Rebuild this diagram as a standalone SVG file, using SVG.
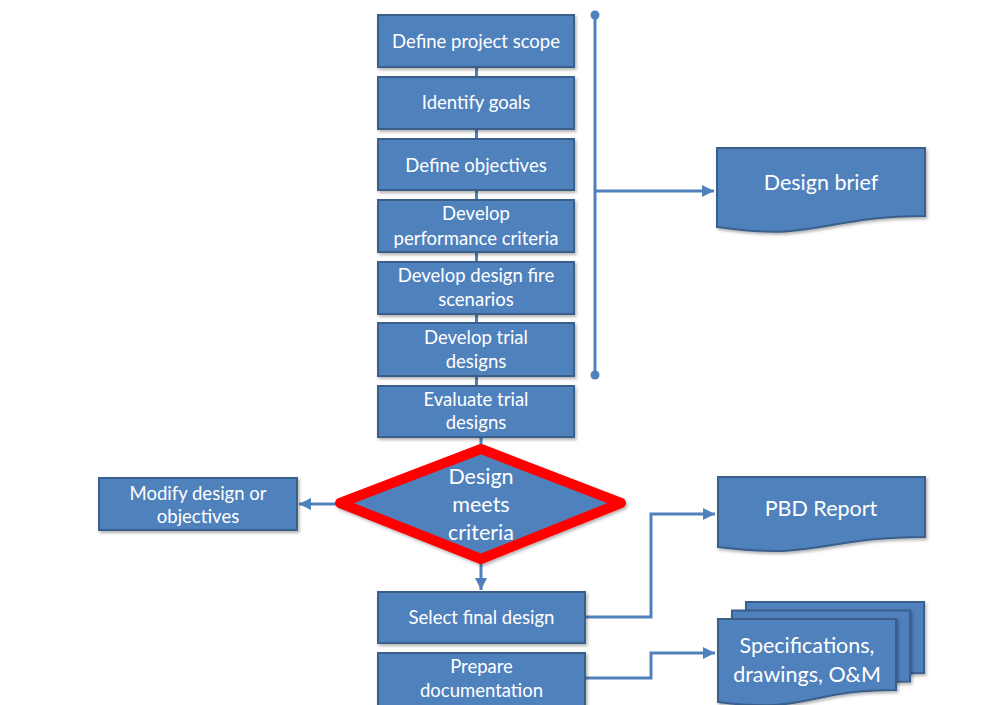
<svg xmlns="http://www.w3.org/2000/svg" width="1004" height="705" viewBox="0 0 1004 705">
<defs>
<filter id="sh" x="-10%" y="-10%" width="130%" height="140%"><feDropShadow dx="1.5" dy="2" stdDeviation="1.5" flood-color="#000" flood-opacity="0.3"/></filter>
<marker id="ah" viewBox="0 0 10 10" refX="10" refY="5" markerWidth="4" markerHeight="4" orient="auto" markerUnits="strokeWidth"><path d="M0,0 L10,5 L0,10 Z" fill="#4F81BD"/></marker>
</defs>
<style>
.b{fill:#4F81BD;stroke:#3A5F8B;stroke-width:2;filter:url(#sh)}
.t{font-family:Lato,"Open Sans",sans-serif;font-size:18.5px;fill:#fff;text-anchor:middle}
.tl{font-family:Lato,"Open Sans",sans-serif;font-size:21.5px;fill:#fff;text-anchor:middle}
.c{fill:none;stroke:#4F81BD;stroke-width:3}
</style>
<rect width="1004" height="705" fill="#fff"/>
<g id="connectors">
<line class="c" x1="476.5" y1="67" x2="476.5" y2="77"/>
<line class="c" x1="476.5" y1="129" x2="476.5" y2="139"/>
<line class="c" x1="476.5" y1="190" x2="476.5" y2="200"/>
<line class="c" x1="476.5" y1="252" x2="476.5" y2="262"/>
<line class="c" x1="476.5" y1="314" x2="476.5" y2="323"/>
<line class="c" x1="476.5" y1="376" x2="476.5" y2="386"/>
<line class="c" x1="481" y1="437" x2="481" y2="447"/>
<line class="c" x1="595" y1="15" x2="595" y2="375"/>
<circle cx="595" cy="15" r="4.5" fill="#4F81BD"/>
<circle cx="595" cy="375" r="4.5" fill="#4F81BD"/>
<line class="c" x1="595" y1="191" x2="714" y2="191" marker-end="url(#ah)"/>
<line class="c" x1="336" y1="504" x2="299" y2="504" marker-end="url(#ah)"/>
<line class="c" x1="481" y1="563" x2="481" y2="590" marker-end="url(#ah)"/>
<polyline class="c" points="585,617 651,617 651,514 715,514" marker-end="url(#ah)"/>
<polyline class="c" points="585,678 651,678 651,653 715,653" marker-end="url(#ah)"/>
</g>
<g id="n1"><rect class="b" x="378" y="15" width="196" height="52"/><text class="t" x="476" y="48">Define project scope</text></g>
<g id="n2"><rect class="b" x="378" y="77" width="196" height="52"/><text class="t" x="476" y="109">Identify goals</text></g>
<g id="n3"><rect class="b" x="378" y="139" width="196" height="51"/><text class="t" x="476" y="172">Define objectives</text></g>
<g id="n4"><rect class="b" x="378" y="200" width="196" height="52"/><text class="t" x="476" y="220">Develop</text><text class="t" x="476" y="245">performance criteria</text></g>
<g id="n5"><rect class="b" x="378" y="262" width="196" height="52"/><text class="t" x="476" y="282">Develop design fire</text><text class="t" x="476" y="306">scenarios</text></g>
<g id="n6"><rect class="b" x="378" y="323" width="196" height="53"/><text class="t" x="476" y="344">Develop trial</text><text class="t" x="476" y="368">designs</text></g>
<g id="n7"><rect class="b" x="378" y="386" width="196" height="51"/><text class="t" x="476" y="406">Evaluate trial</text><text class="t" x="476" y="429">designs</text></g>
<g id="decision"><path d="M340,503 L481,449 L621,503 L481,559 Z" fill="#4F81BD" stroke="#FF0000" stroke-width="10" stroke-linejoin="round" filter="url(#sh)"/><text class="tl" x="481" y="484">Design</text><text class="tl" x="481" y="512">meets</text><text class="tl" x="481" y="540">criteria</text></g>
<g id="modify"><rect class="b" x="99" y="478" width="198" height="52"/><text class="t" x="198" y="500">Modify design or</text><text class="t" x="198" y="523">objectives</text></g>
<g id="select"><rect class="b" x="378" y="592" width="207" height="51"/><text class="t" x="481.5" y="624">Select final design</text></g>
<g id="prepare"><rect class="b" x="378" y="653" width="207" height="56"/><text class="t" x="481.5" y="673">Prepare</text><text class="t" x="481.5" y="697">documentation</text></g>
<g id="brief"><path class="b" d="M717,148 H925 V216 C821,216 821,242 717,227 Z"/><text class="tl" x="821" y="190">Design brief</text></g>
<g id="pbd"><path class="b" d="M718,477 H925 V537 C821.5,537 821.5,560 718,547 Z"/><text class="tl" x="821" y="516">PBD Report</text></g>
<g id="specs">
<path class="b" d="M746,602 H924 V673 C835,673 835,697 746,685 Z"/>
<path class="b" d="M732,610.5 H910 V681.5 C821,681.5 821,705.5 732,693.5 Z"/>
<path class="b" d="M718,619 H896 V690 C807,690 807,714 718,702 Z"/>
<text class="tl" x="807" y="653">Specifications,</text><text class="tl" x="807" y="682">drawings, O&amp;M</text>
</g>
</svg>
